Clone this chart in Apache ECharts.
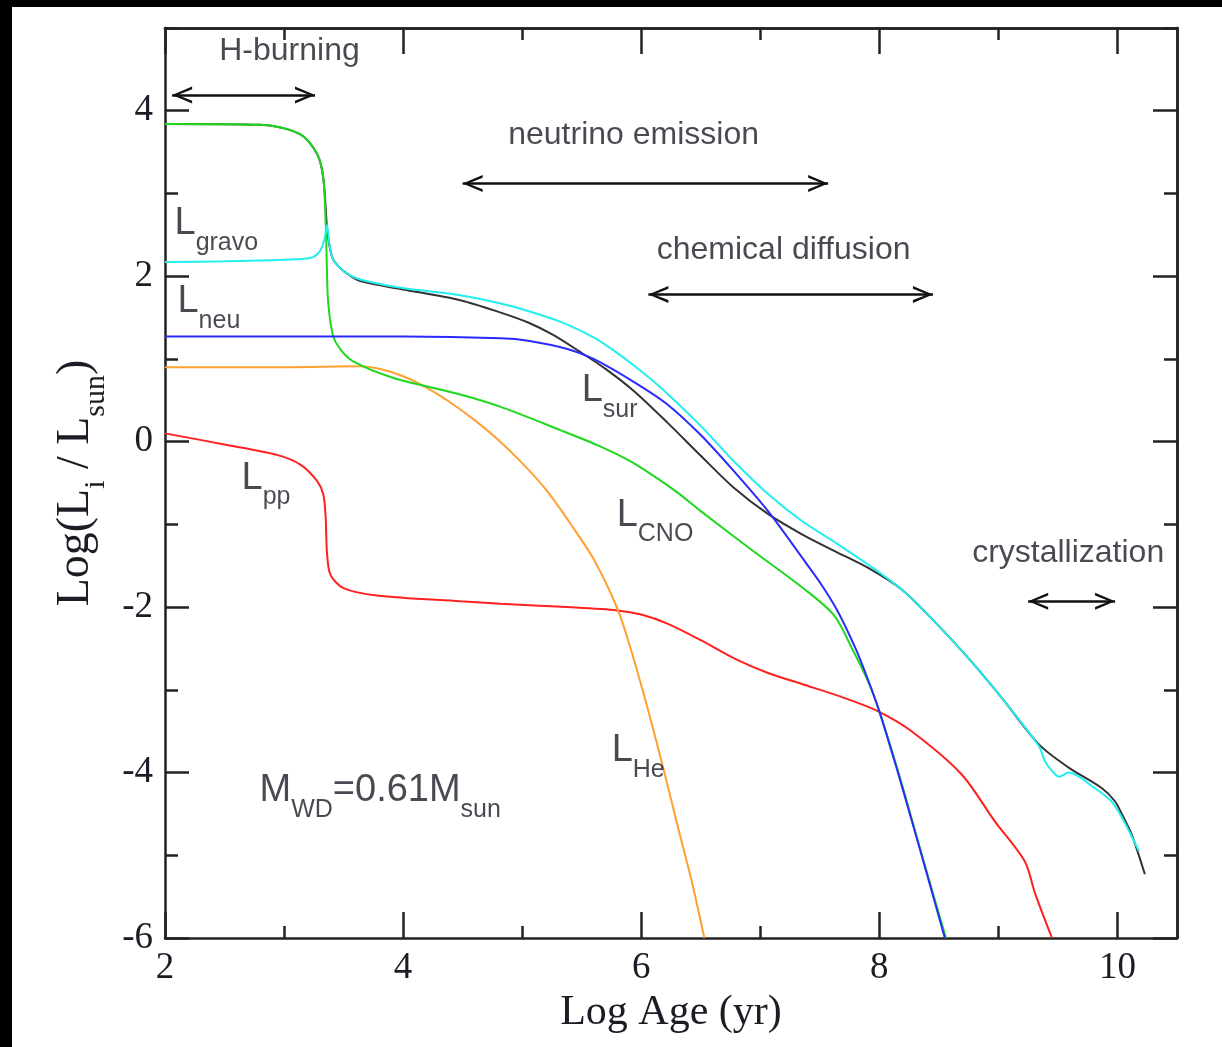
<!DOCTYPE html>
<html>
<head>
<meta charset="utf-8">
<script src="https://cdn.jsdelivr.net/npm/echarts@6/dist/echarts.min.js"></script>
<style>
  html, body { margin: 0; padding: 0; background: #000; width: 1222px; height: 1047px; overflow: hidden; }
  #chart { position: absolute; left: 12px; top: 7px; width: 1210px; height: 1040px; background: #fff; }
</style>
</head>
<body>
<div id="chart"></div>
<script>
// ---- data: [log age, log L/Lsun] ----
const lSur = [[2.0,3.84],[2.8,3.83],[3.13,3.72],[3.28,3.47],[3.33,3.18],[3.36,2.6],[3.38,2.38],[3.41,2.21],
  [3.47,2.1],[3.53,2.03],[3.64,1.94],[4.0,1.84],[4.48,1.71],[4.82,1.56],[5.05,1.44],[5.26,1.29],[5.47,1.1],
  [5.7,0.88],[5.94,0.61],[6.22,0.23],[6.5,-0.17],[6.78,-0.56],[7.07,-0.88],[7.35,-1.12],[7.62,-1.32],
  [7.91,-1.53],[8.19,-1.79],[8.46,-2.17],[8.75,-2.62],[9.03,-3.1],[9.34,-3.66],[9.59,-3.94],[9.87,-4.19],
  [9.98,-4.35],[10.04,-4.51],[10.12,-4.75],[10.23,-5.23]];
const lGravo = [[2.0,2.17],[2.5,2.18],[3.0,2.2],[3.22,2.22],[3.3,2.3],[3.34,2.45],[3.36,2.62],[3.38,2.4],
  [3.41,2.21],[3.47,2.1],[3.53,2.03],[3.64,1.96],[3.98,1.86],[4.48,1.77],[4.82,1.67],[5.05,1.58],[5.32,1.45],
  [5.6,1.26],[5.8,1.07],[6.0,0.85],[6.22,0.58],[6.5,0.19],[6.78,-0.24],[7.07,-0.64],[7.35,-0.96],[7.62,-1.21],
  [7.91,-1.49],[8.19,-1.79],[8.46,-2.17],[8.75,-2.62],[9.03,-3.1],[9.34,-3.68],[9.39,-3.86],[9.45,-3.98],
  [9.51,-4.05],[9.59,-4.0],[9.81,-4.19],[9.95,-4.35],[10.04,-4.55],[10.18,-4.95]];
const lCno = [[2.0,3.84],[2.8,3.83],[3.13,3.72],[3.28,3.47],[3.33,3.18],[3.35,2.62],[3.36,2.1],[3.37,1.69],
  [3.41,1.29],[3.47,1.12],[3.58,0.97],[3.92,0.77],[4.48,0.57],[4.82,0.42],[5.32,0.14],[5.66,-0.06],[5.9,-0.23],
  [6.1,-0.41],[6.3,-0.61],[6.5,-0.84],[6.92,-1.3],[7.35,-1.76],[7.62,-2.1],[7.77,-2.5],[7.9,-2.88],
  [8.0,-3.26],[8.15,-3.95],[8.27,-4.55],[8.41,-5.26],[8.56,-6.0]];
const lNeu = [[2.0,1.27],[3.0,1.27],[4.0,1.27],[4.82,1.25],[5.05,1.22],[5.38,1.12],[5.6,1.0],[5.94,0.72],
  [6.22,0.45],[6.5,0.08],[6.78,-0.36],[7.07,-0.85],[7.35,-1.4],[7.5,-1.7],[7.65,-2.05],[7.8,-2.5],
  [7.9,-2.86],[8.0,-3.26],[8.15,-3.97],[8.27,-4.57],[8.41,-5.28],[8.55,-6.0]];
const lHe = [[2.0,0.9],[3.0,0.9],[3.64,0.91],[3.8,0.88],[4.0,0.79],[4.2,0.65],[4.4,0.47],[4.6,0.26],
  [4.8,0.02],[5.0,-0.26],[5.2,-0.58],[5.4,-0.98],[5.6,-1.42],[5.8,-2.02],[5.9,-2.45],[6.03,-3.1],
  [6.17,-3.86],[6.31,-4.67],[6.43,-5.35],[6.53,-6.0]];
const lPp = [[2.0,0.1],[2.52,-0.04],[2.94,-0.16],[3.14,-0.28],[3.28,-0.48],[3.33,-0.64],[3.35,-0.93],
  [3.36,-1.33],[3.39,-1.61],[3.5,-1.77],[3.78,-1.86],[4.48,-1.93],[4.82,-1.96],[5.38,-2.0],[5.8,-2.04],
  [6.0,-2.09],[6.22,-2.2],[6.5,-2.4],[6.78,-2.62],[7.07,-2.8],[7.35,-2.93],[7.71,-3.1],[7.99,-3.26],
  [8.27,-3.5],[8.69,-4.02],[8.97,-4.59],[9.22,-5.07],[9.31,-5.47],[9.45,-6.0]];

const xMajor = [2, 4, 6, 8, 10];
const xMinor = [3, 5, 7, 9];
const yMajor = [-6, -4, -2, 0, 2, 4];
const yMinor = [-5, -3, -1, 1, 3, 5];

// double arrows: [x from, x to, y]
const arrows = [[2.06, 3.26, 4.19], [4.5, 7.57, 3.12], [6.06, 8.45, 1.78], [9.25, 9.98, -1.93]];

// annotation texts at data positions
const notes = [
  { at: [3.05, 4.71], text: "H-burning", align: "center", va: "middle" },
  { at: [5.94, 3.70], text: "neutrino emission", align: "center", va: "middle" },
  { at: [7.20, 2.31], text: "chemical diffusion", align: "center", va: "middle" },
  { at: [9.59, -1.35], text: "crystallization", align: "center", va: "middle" },
  { at: [2.084, 2.246], text: "{b|L}{s|gravo}", align: "left", va: "bottom" },
  { at: [2.109, 1.304], text: "{b|L}{s|neu}", align: "left", va: "bottom" },
  { at: [2.647, -0.833], text: "{b|L}{s|pp}", align: "left", va: "bottom" },
  { at: [5.504, 0.229], text: "{b|L}{s|sur}", align: "left", va: "bottom" },
  { at: [5.798, -1.28], text: "{b|L}{s|CNO}", align: "left", va: "bottom" },
  { at: [5.756, -4.13], text: "{b|L}{s|He}", align: "left", va: "bottom" },
  { at: [2.798, -4.61], text: "{b|M}{s|WD}{b|=0.61M}{s|sun}", align: "left", va: "bottom" }
];

const ink = "#1c1c26";
const sans = "Liberation Sans";
const serif = "Liberation Serif";
const axisLine = { show: true, onZero: false, lineStyle: { color: "#222", width: 2.5 } };
const noLine = { show: false, onZero: false };
const tickStyle = { color: "#222", width: 2.5 };
const arrowHead = "path://M8.5,0 L8.5,0.01 M8.5,20 L17,40 L14.2,40 L8.5,25.5 L2.8,40 L0,40 Z";

function xAx(pos, ticks, len, withLabels) {
  return {
    type: "value", min: 2, max: 10.5, position: pos,
    axisLine: withLabels || pos === "top" ? axisLine : noLine,
    axisTick: { show: true, inside: true, length: len, customValues: ticks, lineStyle: tickStyle },
    axisLabel: withLabels
      ? { show: true, customValues: ticks, margin: 12, color: ink, fontFamily: serif, fontSize: 37 }
      : { show: false },
    splitLine: { show: false }
  };
}
function yAx(pos, ticks, len, withLabels) {
  return {
    type: "value", min: -6, max: 5, position: pos,
    axisLine: withLabels || pos === "right" ? axisLine : noLine,
    axisTick: { show: true, inside: true, length: len, customValues: ticks, lineStyle: tickStyle },
    axisLabel: withLabels
      ? { show: true, customValues: ticks, margin: 12, color: ink, fontFamily: serif, fontSize: 37 }
      : { show: false },
    splitLine: { show: false }
  };
}

function curve(name, data, color, z) {
  return {
    name, type: "line", data, showSymbol: false, smooth: 0.3,
    lineStyle: { color, width: 2 }, itemStyle: { color }, z, silent: true
  };
}

const chart = echarts.init(document.getElementById("chart"), null, { renderer: "canvas" });

const xs = [xAx("bottom", xMajor, 26, true), xAx("bottom", xMinor, 12, false),
            xAx("top", xMajor, 26, false), xAx("top", xMinor, 12, false)];
xs[0].name = "Log Age (yr)";
xs[0].nameLocation = "middle";
xs[0].nameGap = 52;
xs[0].nameTextStyle = { color: ink, fontFamily: serif, fontSize: 42 };

const ys = [yAx("left", yMajor, 24, true), yAx("left", yMinor, 13, false),
            yAx("right", yMajor, 24, false), yAx("right", yMinor, 13, false)];
ys[0].name = "{n|Log(L}{s|i}{n| / L}{s|sun}{n|)}";
ys[0].nameLocation = "middle";
ys[0].nameRotate = 90;
ys[0].nameGap = 54;
ys[0].nameTextStyle = {
  rich: {
    n: { color: ink, fontFamily: serif, fontSize: 46, padding: [0, 0, 12, 0], verticalAlign: "bottom" },
    s: { color: ink, fontFamily: serif, fontSize: 30, verticalAlign: "bottom" }
  }
};

const black = curve("Lsur", lSur, "#333333", 2);
black.markLine = {
  silent: true, animation: false,
  symbol: [arrowHead, arrowHead], symbolSize: [17, 40],
  label: { show: false },
  lineStyle: { color: "#111", width: 2.5, type: "solid" },
  emphasis: { disabled: true },
  data: arrows.map(a => [{ coord: [a[0], a[2]] }, { coord: [a[1], a[2]] }])
};

chart.setOption({
  animation: false,
  backgroundColor: "#fff",
  grid: { left: 153, top: 21, width: 1012, height: 910, containLabel: false, outerBoundsMode: "none" },
  xAxis: xs,
  yAxis: ys,
  series: [
    black,
    curve("Lpp", lPp, "#ff2020", 3),
    curve("LHe", lHe, "#ffa030", 3),
    curve("LCNO", lCno, "#1ed81e", 4),
    curve("Lneu", lNeu, "#2a2aff", 5),
    curve("Lgravo", lGravo, "#22eeee", 6),
    {
      name: "notes", type: "scatter", symbolSize: 1, silent: true, z: 10,
      itemStyle: { color: "rgba(0,0,0,0)" },
      label: {
        show: true, position: [0, 0], color: ink, fontFamily: sans, fontSize: 32,
        rich: {
          b: { color: ink, fontFamily: sans, fontSize: 38, padding: [0, 0, 13, 0], verticalAlign: "bottom" },
          s: { color: ink, fontFamily: sans, fontSize: 25, verticalAlign: "bottom" }
        }
      },
      data: notes.map(n => ({
        value: n.at,
        label: { formatter: n.text, align: n.align, verticalAlign: n.va }
      }))
    }
  ]
});
</script>
</body>
</html>
